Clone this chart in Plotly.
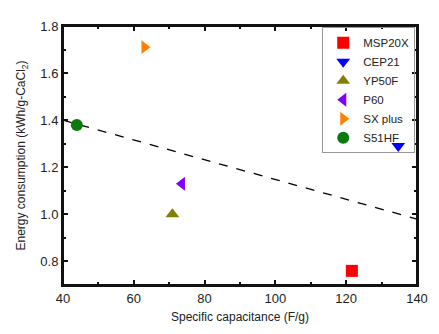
import plotly.graph_objects as go

names = ["MSP20X", "CEP21", "YP50F", "P60", "SX plus", "S51HF"]
cap = [121.6, 134.7, 70.9, 73.6, 63.0, 43.9]
energy = [0.76, 1.29, 1.00, 1.13, 1.71, 1.38]
symbols = ["square", "triangle-down", "triangle-up", "triangle-left", "triangle-right", "circle"]
colors = ["#ff0000", "#0000ff", "#808000", "#8000ff", "#ff8000", "#0a7a0a"]

fit_x = [40, 140]
fit_y = [1.40, 0.98]

fig = go.Figure()
fig.add_trace(go.Scatter(x=fit_x, y=fit_y, mode="lines",
                         line=dict(color="black", width=1.3, dash="dash"),
                         showlegend=False, hoverinfo="skip"))
for n, x, y, s, c in zip(names, cap, energy, symbols, colors):
    fig.add_trace(go.Scatter(x=[x], y=[y], mode="markers", name=n,
                             marker=dict(symbol=s, color=c, size=12,
                                         line=dict(width=0))))

axis_common = dict(showgrid=False, zeroline=False, showline=True, linecolor="#111",
                   linewidth=2, mirror="allticks", ticks="inside", ticklen=5,
                   tickwidth=1.5, tickcolor="#111",
                   tickfont=dict(family="Arial, Liberation Sans", size=13, color="#222"))

fig.update_xaxes(range=[40, 140], tickvals=[40, 60, 80, 100, 120, 140],
                 minor=dict(ticks="inside", ticklen=3, tickwidth=1.5, tickcolor="#111", dtick=10),
                 title=dict(text="Specific capacitance (F/g)",
                            font=dict(family="Arial, Liberation Sans", size=12, color="#222"),
                            standoff=8),
                 **axis_common)
fig.update_yaxes(range=[0.7, 1.8], tickvals=[0.8, 1.0, 1.2, 1.4, 1.6, 1.8],
                 tickformat=".1f",
                 minor=dict(ticks="inside", ticklen=3, tickwidth=1.5, tickcolor="#111",
                            tickvals=[0.7, 0.9, 1.1, 1.3, 1.5, 1.7]),
                 title=dict(text="Energy consumption (kWh/g-CaCl<sub>2</sub>)",
                            font=dict(family="Arial, Liberation Sans", size=12, color="#222"),
                            standoff=12),
                 **axis_common)

# plot frame
fig.add_shape(type="rect", xref="paper", yref="paper", x0=0, y0=0, x1=1, y1=1,
              line=dict(color="#111", width=2), fillcolor="rgba(0,0,0,0)", layer="above")

# page body has an 8px margin, so the figure is drawn 8px smaller
fig.update_layout(width=431, height=326,
                  margin=dict(l=55, r=13, t=11, b=49),
                  plot_bgcolor="white", paper_bgcolor="white",
                  legend=dict(x=0.995, y=0.995, xanchor="right", yanchor="top",
                              bordercolor="#999", borderwidth=1, bgcolor="rgba(255,255,255,0)",
                              font=dict(family="Arial, Liberation Sans", size=11.5, color="#222"),
                              itemwidth=30, tracegroupgap=0))

fig.write_html("out.html")
